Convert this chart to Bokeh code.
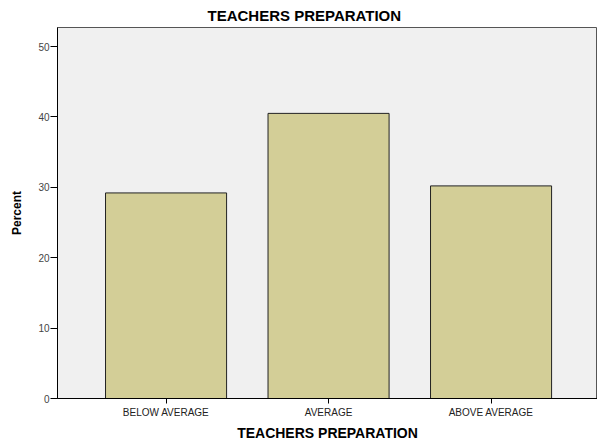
from bokeh.plotting import figure
from bokeh.models import Range1d, FixedTicker, Title, ColumnDataSource
from bokeh.embed import file_html
from bokeh.resources import INLINE

categories = ["BELOW AVERAGE", "AVERAGE", "ABOVE AVERAGE"]
percent = [29.2, 40.5, 30.2]
y_ticks = [0, 10, 20, 30, 40, 50]

xpos = list(range(1, len(categories) + 1))
src = ColumnDataSource(dict(x=xpos, top=percent, cat=categories))

FONT = "Liberation Sans"

p = figure(width=597, height=443, output_backend="svg", toolbar_location=None,
           x_range=Range1d(0.332, 3.655), y_range=Range1d(0, 52.7),
           min_border_left=57, min_border_right=0, min_border_top=27, min_border_bottom=44)

p.vbar(x="x", top="top", width=0.745, source=src, fill_color="#d3ce97",
       line_color="#222222", line_width=1)

p.background_fill_color = "#f0f0f0"
p.border_fill_color = "white"
p.outline_line_color = "#555555"
p.outline_line_width = 1
p.xgrid.visible = False
p.ygrid.visible = False

t = Title(text="TEACHERS PREPARATION", align="left", offset=150, standoff=7,
          text_font=FONT, text_font_size="15px", text_font_style="bold", text_color="black")
p.add_layout(t, "above")

p.xaxis.ticker = FixedTicker(ticks=xpos)
p.xaxis.major_label_overrides = {i: c for i, c in zip(xpos, categories)}
p.xaxis.axis_label = "TEACHERS PREPARATION"
p.xaxis.axis_label_text_font = FONT
p.xaxis.axis_label_text_font_size = "14px"
p.xaxis.axis_label_text_font_style = "bold"
p.xaxis.axis_label_text_color = "black"
p.xaxis.axis_label_standoff = 4
p.xaxis.major_label_text_font = FONT
p.xaxis.major_label_text_font_size = "10px"
p.xaxis.major_label_text_color = "#222222"
p.xaxis.major_label_standoff = 3
p.xaxis.major_tick_out = 5
p.xaxis.major_tick_in = 0
p.xaxis.minor_tick_line_color = None

p.yaxis.ticker = FixedTicker(ticks=y_ticks)
p.yaxis.axis_label = "Percent"
p.yaxis.axis_label_text_font = FONT
p.yaxis.axis_label_text_font_size = "12px"
p.yaxis.axis_label_text_font_style = "bold"
p.yaxis.axis_label_text_color = "black"
p.yaxis.axis_label_standoff = 11
p.yaxis.major_label_text_font = FONT
p.yaxis.major_label_text_font_size = "10px"
p.yaxis.major_label_text_color = "#444444"
p.yaxis.major_label_standoff = 1
p.yaxis.major_tick_out = 7
p.yaxis.major_tick_in = 0
p.yaxis.minor_tick_line_color = None

for ax in (p.xaxis, p.yaxis):
    ax.axis_line_color = "black"
    ax.axis_line_width = 1
    ax.major_tick_line_color = "black"

open("out.html", "w").write(file_html(p, INLINE))
